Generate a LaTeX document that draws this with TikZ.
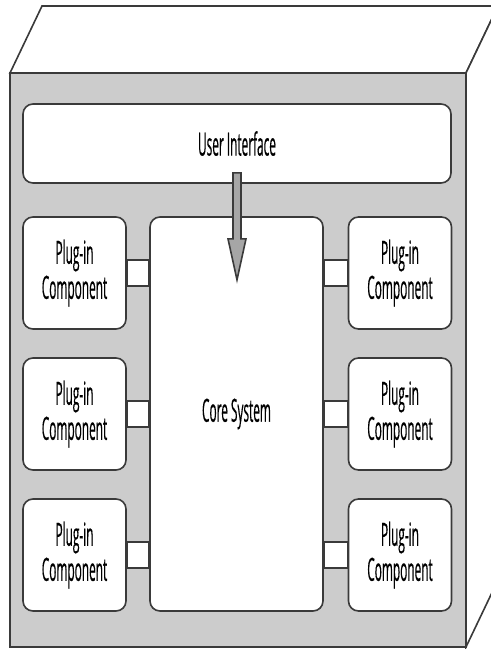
\documentclass[tikz,border=0pt]{standalone}
\usepackage{fontspec}
\setmainfont[FakeStretch=0.37,FakeBold=0.3]{Open Sans}
\usetikzlibrary{positioning,calc}
\definecolor{facegray}{HTML}{CCCCCC}
\definecolor{arrowgray}{HTML}{A6A6A6}
\definecolor{edgegray}{HTML}{3A3A3A}

\begin{document}
\begin{tikzpicture}[
  x=0.5pt, y=-0.5pt,
  font=\fontsize{16}{17.5}\selectfont,
  line width=0.8pt, draw=edgegray,
  box/.style={draw=edgegray,fill=white,rounded corners=5pt,align=center,
              inner sep=0pt},
  plugin/.style={box,minimum width=51.5pt,minimum height=56pt},
  bridge/.style={draw=edgegray,fill=white},
  blockarrow/.style={draw=edgegray,fill=arrowgray,line join=miter},
]
  \clip (0,0) rectangle (491,649);

  % the cabinet
  \draw[fill=white] (10,73) -- (42,6) -- (498,6) -- (466,73) -- cycle;
  \draw[fill=white] (466,73) -- (498,6) -- (498,580) -- (466,647) -- cycle;
  \draw[fill=facegray] (10,73) rectangle (466,647);

  \node[box,minimum width=214pt,minimum height=39.5pt] (ui) at (237,143.5)
        {User Interface};
  \node[box,minimum width=86.5pt,minimum height=197pt] (core) at (236.5,414)
        {Core System};

  \node[plugin] (left1)  at (74.5,273)  {Plug-in\\Component};
  \node[plugin] (left2)  at (74.5,414)  {Plug-in\\Component};
  \node[plugin] (left3)  at (74.5,555)  {Plug-in\\Component};
  \node[plugin] (right1) at (400,273)   {Plug-in\\Component};
  \node[plugin] (right2) at (400,414)   {Plug-in\\Component};
  \node[plugin] (right3) at (400,555)   {Plug-in\\Component};

  % sockets between plug-ins and core
  \draw[bridge] ([yshift=6.5pt]left1.east)  rectangle ([yshift=-6.5pt]core.west |- left1.east);
  \draw[bridge] ([yshift=6.5pt]left2.east)  rectangle ([yshift=-6.5pt]core.west |- left2.east);
  \draw[bridge] ([yshift=6.5pt]left3.east)  rectangle ([yshift=-6.5pt]core.west |- left3.east);
  \draw[bridge] ([yshift=6.5pt]right1.west) rectangle ([yshift=-6.5pt]core.east |- right1.west);
  \draw[bridge] ([yshift=6.5pt]right2.west) rectangle ([yshift=-6.5pt]core.east |- right2.west);
  \draw[bridge] ([yshift=6.5pt]right3.west) rectangle ([yshift=-6.5pt]core.east |- right3.west);

  % ui into core
  \draw[blockarrow] ([xshift=-2pt,yshift=5.5pt]ui.south) -- ++(8,0) -- ++(0,66)
        -- ++(5,0) -- ++(-9,41) -- ++(-9,-41) -- ++(5,0) -- cycle;
\end{tikzpicture}
\end{document}
